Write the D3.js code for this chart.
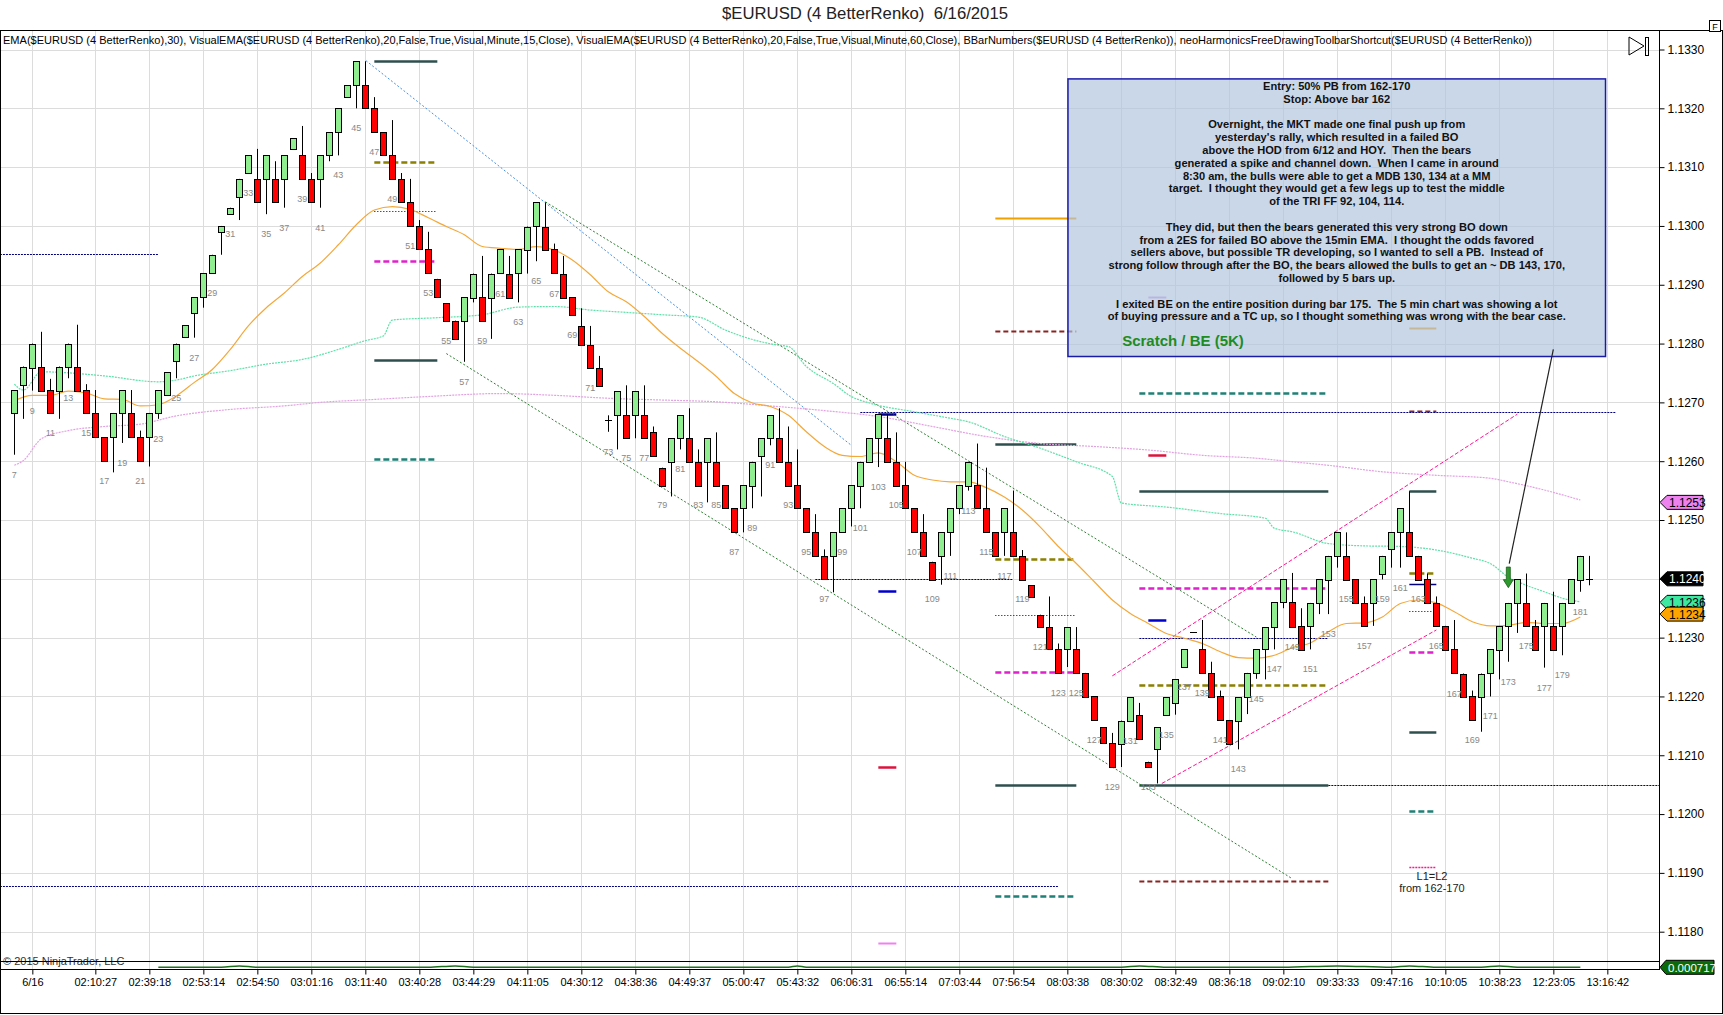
<!DOCTYPE html>
<html>
<head>
<meta charset="utf-8">
<script src="https://cdnjs.cloudflare.com/ajax/libs/d3/7.8.5/d3.min.js"></script>
<style>
    body { margin: 0; background: #fff; }
    svg { display: block; font-family: Arial, "Liberation Sans", sans-serif; }
</style>
</head>
<body>
<svg id="chart" width="1723" height="1015"></svg>
<script>
// ---------- Data ----------
const firstBar = 7;

const barOpen = [
    1.12682, 1.12731, 1.12760, 1.12761, 1.12721, 1.12721, 1.12761, 1.12761, 1.12721, 1.12682,
    1.12641, 1.12641, 1.12682, 1.12682, 1.12641, 1.12641, 1.12682, 1.12712, 1.12771, 1.12810,
    1.12851, 1.12879, 1.12920, 1.12990, 1.13021, 1.13050, 1.13090, 1.13080, 1.13080, 1.13080,
    1.13080, 1.13131, 1.13120, 1.13080, 1.13080, 1.13120, 1.13159, 1.13219, 1.13239, 1.13239,
    1.13200, 1.13159, 1.13120, 1.13080, 1.13041, 1.13000, 1.12961, 1.12910, 1.12869, 1.12839,
    1.12839, 1.12879, 1.12879, 1.12879, 1.12919, 1.12919, 1.12919, 1.12960, 1.12999, 1.12999,
    1.12960, 1.12919, 1.12879, 1.12830, 1.12798, 1.12759, 1.12670, 1.12678, 1.12678, 1.12678,
    1.12678, 1.12649, 1.12589, 1.12599, 1.12639, 1.12639, 1.12599, 1.12599, 1.12599, 1.12559,
    1.12520, 1.12520, 1.12559, 1.12609, 1.12639, 1.12639, 1.12599, 1.12559, 1.12520, 1.12479,
    1.12439, 1.12439, 1.12479, 1.12520, 1.12559, 1.12599, 1.12639, 1.12639, 1.12599, 1.12559,
    1.12520, 1.12479, 1.12429, 1.12439, 1.12479, 1.12520, 1.12559, 1.12559, 1.12520, 1.12479,
    1.12479, 1.12479, 1.12439, 1.12389, 1.12339, 1.12318, 1.12280, 1.12280, 1.12280, 1.12240,
    1.12200, 1.12148, 1.12120, 1.12120, 1.12159, 1.12169, 1.12089, 1.12110, 1.12169, 1.12189,
    1.12250, 1.12309, 1.12280, 1.12240, 1.12200, 1.12160, 1.12159, 1.12199, 1.12240, 1.12280,
    1.12318, 1.12360, 1.12360, 1.12320, 1.12320, 1.12359, 1.12399, 1.12439, 1.12439, 1.12399,
    1.12359, 1.12359, 1.12409, 1.12450, 1.12479, 1.12479, 1.12439, 1.12399, 1.12359, 1.12320,
    1.12280, 1.12239, 1.12200, 1.12200, 1.12239, 1.12280, 1.12320, 1.12359, 1.12359, 1.12320,
    1.12320, 1.12320, 1.12320, 1.12359, 1.12399, 1.12399
];
const barClose = [
    1.12721, 1.12761, 1.12800, 1.12721, 1.12682, 1.12761, 1.12800, 1.12721, 1.12682, 1.12641,
    1.12601, 1.12682, 1.12721, 1.12641, 1.12601, 1.12682, 1.12721, 1.12751, 1.12800, 1.12831,
    1.12879, 1.12920, 1.12951, 1.13000, 1.13031, 1.13080, 1.13120, 1.13041, 1.13120, 1.13041,
    1.13120, 1.13149, 1.13080, 1.13041, 1.13120, 1.13159, 1.13200, 1.13239, 1.13280, 1.13200,
    1.13159, 1.13120, 1.13080, 1.13041, 1.13000, 1.12961, 1.12920, 1.12879, 1.12839, 1.12808,
    1.12879, 1.12919, 1.12839, 1.12919, 1.12960, 1.12879, 1.12960, 1.12999, 1.13040, 1.12960,
    1.12919, 1.12879, 1.12849, 1.12798, 1.12759, 1.12729, 1.12670, 1.12719, 1.12639, 1.12719,
    1.12639, 1.12609, 1.12559, 1.12639, 1.12678, 1.12599, 1.12559, 1.12639, 1.12559, 1.12520,
    1.12479, 1.12559, 1.12599, 1.12639, 1.12678, 1.12599, 1.12559, 1.12520, 1.12479, 1.12439,
    1.12400, 1.12479, 1.12520, 1.12559, 1.12599, 1.12639, 1.12680, 1.12599, 1.12559, 1.12520,
    1.12479, 1.12439, 1.12399, 1.12479, 1.12520, 1.12559, 1.12599, 1.12520, 1.12479, 1.12439,
    1.12520, 1.12439, 1.12399, 1.12369, 1.12318, 1.12280, 1.12240, 1.12318, 1.12240, 1.12200,
    1.12160, 1.12120, 1.12080, 1.12159, 1.12199, 1.12128, 1.12080, 1.12148, 1.12199, 1.12229,
    1.12280, 1.12309, 1.12240, 1.12200, 1.12160, 1.12120, 1.12199, 1.12240, 1.12280, 1.12318,
    1.12360, 1.12399, 1.12318, 1.12280, 1.12359, 1.12399, 1.12439, 1.12479, 1.12399, 1.12359,
    1.12320, 1.12399, 1.12439, 1.12479, 1.12520, 1.12439, 1.12399, 1.12359, 1.12320, 1.12280,
    1.12239, 1.12200, 1.12160, 1.12239, 1.12280, 1.12320, 1.12359, 1.12399, 1.12320, 1.12280,
    1.12359, 1.12280, 1.12359, 1.12399, 1.12439, 1.12399
];
const barHigh = [
    1.12721, 1.12761, 1.12800, 1.12820, 1.12740, 1.12761, 1.12800, 1.12832, 1.12731, 1.12721,
    1.12641, 1.12682, 1.12721, 1.12721, 1.12652, 1.12682, 1.12721, 1.12751, 1.12800, 1.12831,
    1.12879, 1.12920, 1.12951, 1.13000, 1.13031, 1.13080, 1.13120, 1.13131, 1.13120, 1.13110,
    1.13120, 1.13149, 1.13170, 1.13090, 1.13120, 1.13159, 1.13200, 1.13239, 1.13280, 1.13280,
    1.13219, 1.13159, 1.13180, 1.13090, 1.13080, 1.13010, 1.12990, 1.12910, 1.12869, 1.12839,
    1.12879, 1.12919, 1.12949, 1.12919, 1.12960, 1.12949, 1.12960, 1.12999, 1.13040, 1.13040,
    1.12970, 1.12949, 1.12879, 1.12860, 1.12830, 1.12779, 1.12678, 1.12719, 1.12729, 1.12719,
    1.12729, 1.12659, 1.12589, 1.12639, 1.12678, 1.12690, 1.12620, 1.12639, 1.12649, 1.12559,
    1.12520, 1.12559, 1.12599, 1.12639, 1.12678, 1.12690, 1.12659, 1.12620, 1.12520, 1.12510,
    1.12450, 1.12479, 1.12520, 1.12559, 1.12599, 1.12639, 1.12680, 1.12680, 1.12649, 1.12599,
    1.12520, 1.12510, 1.12429, 1.12479, 1.12520, 1.12559, 1.12599, 1.12630, 1.12589, 1.12479,
    1.12520, 1.12550, 1.12449, 1.12389, 1.12339, 1.12370, 1.12290, 1.12318, 1.12318, 1.12240,
    1.12200, 1.12148, 1.12138, 1.12159, 1.12199, 1.12189, 1.12089, 1.12148, 1.12199, 1.12229,
    1.12280, 1.12309, 1.12330, 1.12259, 1.12210, 1.12160, 1.12199, 1.12240, 1.12280, 1.12318,
    1.12360, 1.12399, 1.12410, 1.12350, 1.12359, 1.12399, 1.12439, 1.12479, 1.12479, 1.12399,
    1.12370, 1.12399, 1.12439, 1.12479, 1.12520, 1.12549, 1.12439, 1.12409, 1.12370, 1.12320,
    1.12330, 1.12239, 1.12210, 1.12239, 1.12280, 1.12320, 1.12359, 1.12399, 1.12409, 1.12330,
    1.12359, 1.12378, 1.12359, 1.12399, 1.12439, 1.12439
];
const barLow = [
    1.12611, 1.12672, 1.12720, 1.12721, 1.12682, 1.12672, 1.12741, 1.12721, 1.12682, 1.12641,
    1.12601, 1.12581, 1.12631, 1.12641, 1.12601, 1.12591, 1.12672, 1.12712, 1.12741, 1.12810,
    1.12810, 1.12861, 1.12920, 1.12951, 1.13021, 1.13010, 1.13090, 1.13041, 1.13020, 1.13041,
    1.13031, 1.13131, 1.13080, 1.13041, 1.13031, 1.13110, 1.13120, 1.13219, 1.13200, 1.13200,
    1.13159, 1.13120, 1.13080, 1.13041, 1.13000, 1.12961, 1.12920, 1.12879, 1.12839, 1.12808,
    1.12769, 1.12870, 1.12839, 1.12808, 1.12919, 1.12879, 1.12870, 1.12919, 1.12940, 1.12960,
    1.12919, 1.12879, 1.12849, 1.12798, 1.12759, 1.12729, 1.12650, 1.12620, 1.12639, 1.12639,
    1.12639, 1.12609, 1.12559, 1.12540, 1.12620, 1.12599, 1.12559, 1.12530, 1.12559, 1.12520,
    1.12479, 1.12479, 1.12520, 1.12540, 1.12627, 1.12599, 1.12559, 1.12520, 1.12479, 1.12439,
    1.12400, 1.12377, 1.12479, 1.12489, 1.12520, 1.12599, 1.12590, 1.12599, 1.12559, 1.12520,
    1.12479, 1.12439, 1.12399, 1.12390, 1.12439, 1.12510, 1.12550, 1.12520, 1.12479, 1.12439,
    1.12439, 1.12439, 1.12399, 1.12369, 1.12318, 1.12280, 1.12240, 1.12250, 1.12240, 1.12200,
    1.12160, 1.12120, 1.12080, 1.12080, 1.12159, 1.12128, 1.12080, 1.12052, 1.12169, 1.12169,
    1.12250, 1.12309, 1.12240, 1.12200, 1.12160, 1.12120, 1.12110, 1.12170, 1.12230, 1.12229,
    1.12280, 1.12350, 1.12318, 1.12280, 1.12280, 1.12340, 1.12340, 1.12419, 1.12399, 1.12359,
    1.12320, 1.12320, 1.12399, 1.12419, 1.12419, 1.12439, 1.12399, 1.12359, 1.12320, 1.12280,
    1.12239, 1.12200, 1.12160, 1.12140, 1.12200, 1.12229, 1.12259, 1.12308, 1.12320, 1.12280,
    1.12249, 1.12280, 1.12270, 1.12359, 1.12378, 1.12389
];

// EMA(30) - orange
const emaBars = [7, 9, 11, 13, 15, 17, 19, 21, 23, 25, 27, 29, 31, 33, 35, 37, 39, 41, 43, 45, 47, 49, 51, 53,
    55, 57, 59, 61, 63, 65, 67, 69, 71, 73, 75, 77, 79, 81, 83, 85, 87, 89, 91, 93, 95, 97, 99, 101,
    103, 105, 107, 109, 111, 113, 115, 117, 119, 121, 123, 125, 127, 129, 131, 133, 135, 137, 139, 141, 143, 145, 147, 149,
    151, 153, 155, 157, 159, 161, 163, 165, 167, 169, 171, 173, 175, 177, 179, 181];
const emaValues = [1.12703, 1.12712, 1.12712, 1.12719, 1.12716, 1.12706, 1.12705, 1.12694, 1.12696, 1.12711, 1.12734, 1.12756,
    1.12790, 1.12830, 1.12861, 1.12886, 1.12914, 1.12937, 1.12968, 1.13002, 1.13027, 1.13033, 1.13028, 1.13014,
    1.12999, 1.12985, 1.12965, 1.12962, 1.12960, 1.12965, 1.12959, 1.12942, 1.12917, 1.12888, 1.12871, 1.12846,
    1.12817, 1.12792, 1.12769, 1.12744, 1.12715, 1.12699, 1.12693, 1.12678, 1.12650, 1.12625, 1.12610, 1.12608,
    1.12614, 1.12599, 1.12576, 1.12568, 1.12565, 1.12565, 1.12555, 1.12539, 1.12517, 1.12488, 1.12455, 1.12426,
    1.12395, 1.12364, 1.12341, 1.12324, 1.12307, 1.12299, 1.12290, 1.12276, 1.12266, 1.12265, 1.12270, 1.12283,
    1.12291, 1.12310, 1.12324, 1.12325, 1.12335, 1.12358, 1.12364, 1.12359, 1.12344, 1.12327, 1.12320, 1.12321,
    1.12326, 1.12324, 1.12324, 1.12335];

// VisualEMA 15 min - aquamarine
const ema15Bars = [7, 8, 10, 17, 23, 25, 27, 31, 35, 39, 43, 46, 48, 49, 54, 59, 63, 67, 71, 75, 79, 83, 86, 90, 92, 93,
    95, 98, 100, 102, 107, 111, 113, 117, 121, 125, 129, 130, 135, 141, 146, 147, 149, 153, 157, 161, 165, 169,
    171, 173, 175, 177, 179, 181];
const ema15Values = [1.12731, 1.12721, 1.12752, 1.12745, 1.12735, 1.12738, 1.12745, 1.12754, 1.12765, 1.12773, 1.12790,
    1.12805, 1.12813, 1.12840, 1.12844, 1.12849, 1.12862, 1.12863, 1.12857, 1.12853, 1.12849, 1.12845, 1.12823,
    1.12803, 1.12797, 1.12795, 1.12761, 1.12732, 1.12710, 1.12699, 1.12684, 1.12673, 1.12667, 1.12642, 1.12622,
    1.12599, 1.12574, 1.12529, 1.12522, 1.12511, 1.12503, 1.12486, 1.12480, 1.12460, 1.12456, 1.12455, 1.12449,
    1.12435, 1.12426, 1.12403, 1.12389, 1.12378, 1.12367, 1.12361];

// VisualEMA 60 min - plum
const ema60Bars = [7, 8, 10, 13, 17, 21, 25, 31, 37, 41, 47, 53, 61, 67, 73, 79, 85, 91, 97, 103, 109, 115, 121, 127,
    133, 139, 145, 149, 153, 159, 165, 171, 173, 177, 181];
const ema60Values = [1.12593, 1.12601, 1.12638, 1.12652, 1.12659, 1.12663, 1.12677, 1.12688, 1.12694, 1.12700, 1.12705,
    1.12710, 1.12715, 1.12712, 1.12707, 1.12704, 1.12701, 1.12694, 1.12686, 1.12676, 1.12659, 1.12642, 1.12630,
    1.12625, 1.12619, 1.12610, 1.12605, 1.12599, 1.12593, 1.12582, 1.12576, 1.12571, 1.12565, 1.12551, 1.12534];

// bottom indicator panel
const panelBars = [23, 30, 32, 34, 53, 56, 58, 93, 94, 95, 130, 132, 135, 148, 154, 160, 162, 165, 170, 172, 174, 181];
const panelValues = [0.000717, 0.000717, 0.000731, 0.000717, 0.000717, 0.000731, 0.000717, 0.000717, 0.000731, 0.000717,
    0.000717, 0.000731, 0.000717, 0.000717, 0.000731, 0.000717, 0.000731, 0.000717, 0.000717, 0.000731, 0.000717, 0.000717];

// axes
const priceTicks = [1.1180, 1.1190, 1.1200, 1.1210, 1.1220, 1.1230, 1.1240, 1.1250,
    1.1260, 1.1270, 1.1280, 1.1290, 1.1300, 1.1310, 1.1320, 1.1330];
const timeTickBars = [9, 16, 22, 28, 34, 40, 46, 52, 58, 64, 70, 76, 82, 88, 94, 100, 106, 112, 118, 124,
    130, 136, 142, 148, 154, 160, 166, 172, 178, 184];
const timeTickLabels = ['6/16', '02:10:27', '02:39:18', '02:53:14', '02:54:50', '03:01:16', '03:11:40', '03:40:28',
    '03:44:29', '04:11:05', '04:30:12', '04:38:36', '04:49:37', '05:00:47', '05:43:32', '06:06:31', '06:55:14',
    '07:03:44', '07:56:54', '08:03:38', '08:30:02', '08:32:49', '08:36:18', '09:02:10', '09:33:33', '09:47:16',
    '10:10:05', '10:38:23', '12:23:05', '13:16:42'];

// price markers on the right axis
const markerValues = [1.1253, 1.1240, 1.1236, 1.1234];
const markerKinds = ['ema60', 'last', 'ema15', 'ema'];

// horizontal drawing levels (price, from bar, to bar, kind)
const levelPrice = [
    1.13281, 1.13108, 1.13026, 1.12940, 1.12772, 1.12604,
    1.13014, 1.12821, 1.12630, 1.12433, 1.12339, 1.12242, 1.12049, 1.11860,
    1.12716, 1.12550, 1.12385, 1.12299, 1.12219, 1.12049, 1.11886,
    1.12827, 1.12685, 1.12549, 1.12410, 1.12392, 1.12345, 1.12276, 1.12140, 1.12005, 1.11910,
    1.12681, 1.12380, 1.12080, 1.11781,
    1.12880, 1.12611, 1.12330,
    1.12953, 1.11878, 1.12684, 1.12399, 1.12049
];
const levelFrom = [
    47, 47, 47, 47, 47, 47,
    116, 116, 116, 116, 116, 116, 116, 116,
    132, 132, 132, 132, 132, 132, 132,
    162, 162, 162, 162, 162, 162, 162, 162, 162, 162,
    103, 103, 103, 103,
    133, 133, 133,
    5.4, 5.4, 101, 96, 153
];
const levelTo = [
    54, 54, 54, 54, 54, 54,
    125, 125, 125, 125, 125, 125, 125, 125,
    153, 153, 153, 153, 153, 153, 153,
    165, 165, 165, 165, 165, 165, 165, 165, 165, 165,
    105, 105, 105, 105,
    135, 135, 135,
    23, 123, 185, 118, 190
];
const levelKind = [
    'black', 'olive', 'dotted', 'magenta', 'black', 'teal',
    'orange', 'brown', 'black', 'olive', 'dotted', 'magenta', 'black', 'teal',
    'teal', 'black', 'magenta', 'navyDot', 'olive', 'black', 'brown',
    'orange', 'brown', 'black', 'olive', 'navy', 'dotted', 'magenta', 'black', 'teal', 'pinkDot',
    'navySolid', 'blue', 'red', 'violet',
    'plum', 'red', 'blue',
    'navyDot', 'navyDot', 'navyDot', 'navyDot', 'navyDot'
];

// trend lines (bar, price) -> (bar, price)
const trendFromBar = [46.07, 66, 55, 129, 134.5];
const trendFromPrice = [1.13281, 1.13041, 1.12783, 1.12235, 1.12052];
const trendToBar = [100, 145, 149, 174, 165];
const trendToPrice = [1.12627, 1.12301, 1.11890, 1.12680, 1.12313];
const trendKind = ['blue', 'green', 'green', 'pink', 'pink'];

// callout arrow from note box to bar 173
const arrowFrom = [178, 1.12790];
const arrowTo = [173.1, 1.12426];
const arrowHead = [173, 1.12420, 1.12385];

// note box
const noteBox = [1.1325, 1.12778];   // top / bottom price
const noteBoxBars = [124.07, 183.8];
const noteLines = [
    'Entry: 50% PB from 162-170',
    'Stop: Above bar 162',
    '',
    'Overnight, the MKT made one final push up from',
    "yesterday's rally, which resulted in a failed BO",
    'above the HOD from 6/12 and HOY.  Then the bears',
    'generated a spike and channel down.  When I came in around',
    '8:30 am, the bulls were able to get a MDB 130, 134 at a MM',
    'target.  I thought they would get a few legs up to test the middle',
    'of the TRI FF 92, 104, 114.',
    '',
    'They did, but then the bears generated this very strong BO down',
    'from a 2ES for failed BO above the 15min EMA.  I thought the odds favored',
    'sellers above, but possible TR developing, so I wanted to sell a PB.  Instead of',
    'strong follow through after the BO, the bears allowed the bulls to get an ~ DB 143, 170,',
    'followed by 5 bars up.',
    '',
    'I exited BE on the entire position during bar 175.  The 5 min chart was showing a lot',
    'of buying pressure and a TC up, so I thought something was wrong with the bear case.'
];
const resultText = 'Scratch / BE (5K)';

// ---------- Chart ----------
const svg = d3.select('#chart');
const W = 1723, H = 1015;
const plotRight = 1660, plotTop = 30, plotBottom = 961, panelBottom = 969;

const x = d3.scaleLinear().domain([7, 184]).range([14.33, 1607.33]);
const y = d3.scaleLinear().domain([1.1330, 1.1180]).range([49.5, 931.7]);
const yPanel = d3.scaleLinear().domain([0.0007, 0.00078]).range([panelBottom, plotBottom]);

svg.append('rect').attr('width', W).attr('height', H).attr('fill', '#fff');

svg.append('defs').append('clipPath').attr('id', 'plotClip')
    .append('rect').attr('x', 1).attr('y', plotTop + 1).attr('width', plotRight - 1).attr('height', plotBottom - plotTop - 1);

// Title
svg.append('text')
    .attr('x', 865).attr('y', 19)
    .attr('text-anchor', 'middle')
    .attr('font-size', 16).attr('fill', '#222')
    .attr('textLength', 286).attr('lengthAdjust', 'spacingAndGlyphs')
    .style('white-space', 'pre')
    .text('$EURUSD (4 BetterRenko)  6/16/2015');

// Grid
const grid = svg.append('g');
grid.selectAll('line.h').data(priceTicks).join('line')
    .attr('x1', 0).attr('x2', plotRight)
    .attr('y1', d => Math.round(y(d)) + 0.5).attr('y2', d => Math.round(y(d)) + 0.5)
    .attr('stroke', '#dcdcdc');
grid.selectAll('line.v').data(timeTickBars).join('line')
    .attr('x1', d => Math.round(x(d)) + 0.5).attr('x2', d => Math.round(x(d)) + 0.5)
    .attr('y1', plotTop).attr('y2', panelBottom)
    .attr('stroke', '#dcdcdc');

// indicator header
svg.append('text')
    .attr('x', 3).attr('y', 44)
    .attr('font-size', 11).attr('fill', '#000')
    .attr('textLength', 1529).attr('lengthAdjust', 'spacingAndGlyphs')
    .text('EMA($EURUSD (4 BetterRenko),30), VisualEMA($EURUSD (4 BetterRenko),20,False,True,Visual,Minute,15,Close), VisualEMA($EURUSD (4 BetterRenko),20,False,True,Visual,Minute,60,Close), BBarNumbers($EURUSD (4 BetterRenko)), neoHarmonicsFreeDrawingToolbarShortcut($EURUSD (4 BetterRenko))');

const plot = svg.append('g').attr('clip-path', 'url(#plotClip)');

// Horizontal levels
const levelStyle = {
    black:     { stroke: '#2f4f4f', width: 2.5, dash: null },
    olive:     { stroke: '#8b8000', width: 2.5, dash: '6,3' },
    magenta:   { stroke: '#e020cc', width: 2.5, dash: '6,3' },
    teal:      { stroke: '#1f8078', width: 2.5, dash: '6,3' },
    brown:     { stroke: '#8b2323', width: 2, dash: '5,3' },
    orange:    { stroke: '#f0a000', width: 2, dash: null },
    dotted:    { stroke: '#000', width: 1, dash: '1,2' },
    navyDot:   { stroke: '#000080', width: 1, dash: '2,1' },
    navy:      { stroke: '#000080', width: 1.5, dash: null },
    navySolid: { stroke: '#000080', width: 2.5, dash: null },
    blue:      { stroke: '#0000cd', width: 2.5, dash: null },
    red:       { stroke: '#dc143c', width: 2.5, dash: null },
    violet:    { stroke: '#ee82ee', width: 2, dash: null },
    plum:      { stroke: '#cc99dd', width: 2, dash: null },
    pinkDot:   { stroke: '#ff1493', width: 1.5, dash: '2,1' }
};
plot.selectAll('line.level').data(levelPrice).join('line')
    .attr('x1', (d, i) => x(levelFrom[i])).attr('x2', (d, i) => x(levelTo[i]))
    .attr('y1', d => Math.round(y(d)) + 0.5).attr('y2', d => Math.round(y(d)) + 0.5)
    .attr('stroke', (d, i) => levelStyle[levelKind[i]].stroke)
    .attr('stroke-width', (d, i) => levelStyle[levelKind[i]].width)
    .attr('stroke-dasharray', (d, i) => levelStyle[levelKind[i]].dash);

// Trend lines
const trendStyle = {
    blue:  { stroke: '#4a90e2', dash: '2,2' },
    green: { stroke: '#2e7d32', dash: '2,2' },
    pink:  { stroke: '#ff1493', dash: '4,2' }
};
plot.selectAll('line.trend').data(trendFromBar).join('line')
    .attr('x1', d => x(d)).attr('y1', (d, i) => y(trendFromPrice[i]))
    .attr('x2', (d, i) => x(trendToBar[i])).attr('y2', (d, i) => y(trendToPrice[i]))
    .attr('stroke', (d, i) => trendStyle[trendKind[i]].stroke)
    .attr('stroke-dasharray', (d, i) => trendStyle[trendKind[i]].dash)
    .attr('stroke-width', 1);

// EMA lines
const lineGen = d3.line().x(d => x(d[0])).y(d => y(d[1])).curve(d3.curveMonotoneX);
plot.append('path')
    .datum(ema60Bars.map((b, i) => [b, ema60Values[i]]))
    .attr('d', lineGen).attr('fill', 'none')
    .attr('stroke', '#e2a2e2').attr('stroke-width', 1.2).attr('stroke-dasharray', '2,1');
plot.append('path')
    .datum(ema15Bars.map((b, i) => [b, ema15Values[i]]))
    .attr('d', lineGen).attr('fill', 'none')
    .attr('stroke', '#5fe0a8').attr('stroke-width', 1.2).attr('stroke-dasharray', '2,1');
plot.append('path')
    .datum(emaBars.map((b, i) => [b, emaValues[i]]))
    .attr('d', lineGen).attr('fill', 'none')
    .attr('stroke', '#f4a83a').attr('stroke-width', 1.2);

// Note box
plot.append('rect')
    .attr('x', x(noteBoxBars[0])).attr('y', y(noteBox[0]))
    .attr('width', x(noteBoxBars[1]) - x(noteBoxBars[0]))
    .attr('height', y(noteBox[1]) - y(noteBox[0]))
    .attr('fill', 'rgb(176,196,222)').attr('fill-opacity', 0.68)
    .attr('stroke', '#1a1aa8').attr('stroke-width', 1.5);

const boxCx = (x(noteBoxBars[0]) + x(noteBoxBars[1])) / 2;
const noteText = svg.append('text')
    .attr('text-anchor', 'middle')
    .attr('font-size', 11.1).attr('font-weight', 'bold').attr('fill', '#111')
    .style('white-space', 'pre');
noteText.selectAll('tspan').data(noteLines).join('tspan')
    .attr('x', boxCx)
    .attr('y', (d, i) => y(noteBox[0]) + 11 + i * 12.8)
    .text(d => d);

svg.append('text')
    .attr('x', 1183).attr('y', 346)
    .attr('text-anchor', 'middle')
    .attr('font-size', 15).attr('font-weight', 'bold').attr('fill', '#1e8c1e')
    .text(resultText);

// Candles
const bars = barOpen.map((o, i) => ({ n: firstBar + i, o, c: barClose[i], h: barHigh[i], l: barLow[i] }));
const candles = plot.append('g');
candles.selectAll('line.wick').data(bars).join('line')
    .attr('x1', d => Math.round(x(d.n)) + 0.5).attr('x2', d => Math.round(x(d.n)) + 0.5)
    .attr('y1', d => y(d.h)).attr('y2', d => y(d.l))
    .attr('stroke', '#000').attr('stroke-width', 1);
candles.selectAll('rect.body').data(bars.filter(d => d.o !== d.c)).join('rect')
    .attr('x', d => Math.round(x(d.n)) - 2.5)
    .attr('y', d => Math.round(y(Math.max(d.o, d.c))) + 0.5)
    .attr('width', 6)
    .attr('height', d => Math.max(1, Math.round(Math.abs(y(d.o) - y(d.c)))))
    .attr('fill', d => d.c > d.o ? '#90ee90' : '#ff0000')
    .attr('stroke', '#000').attr('stroke-width', 1);
candles.selectAll('line.doji').data(bars.filter(d => d.o === d.c)).join('line')
    .attr('x1', d => Math.round(x(d.n)) - 3).attr('x2', d => Math.round(x(d.n)) + 4)
    .attr('y1', d => Math.round(y(d.o)) + 0.5).attr('y2', d => Math.round(y(d.o)) + 0.5)
    .attr('stroke', '#000');

// Bar numbers
plot.selectAll('text.barnum').data(bars.filter(d => d.n % 2 === 1)).join('text')
    .attr('x', d => x(d.n)).attr('y', d => y(d.l) + 23)
    .attr('text-anchor', 'middle')
    .attr('font-size', 9).attr('fill', '#888')
    .text(d => d.n);

// Callout arrow
plot.append('line')
    .attr('x1', x(arrowFrom[0])).attr('y1', y(arrowFrom[1]))
    .attr('x2', x(arrowTo[0])).attr('y2', y(arrowTo[1]))
    .attr('stroke', '#222').attr('stroke-width', 1.2);
const ax = x(arrowHead[0]), ayTop = y(arrowHead[1]), ayTip = y(arrowHead[2]);
const ayNeck = ayTip - 8;
plot.append('path')
    .attr('d', `M${ax - 2},${ayTop} L${ax + 2},${ayTop} L${ax + 2},${ayNeck} L${ax + 5},${ayNeck} L${ax},${ayTip} L${ax - 5},${ayNeck} L${ax - 2},${ayNeck} Z`)
    .attr('fill', '#2e9a2e').attr('stroke', '#1b5e1b').attr('stroke-width', 0.8);

// L1=L2 note
svg.append('text').attr('x', 1432).attr('y', 880).attr('text-anchor', 'middle')
    .attr('font-size', 11).attr('fill', '#222').text('L1=L2');
svg.append('text').attr('x', 1432).attr('y', 892).attr('text-anchor', 'middle')
    .attr('font-size', 11).attr('fill', '#222').text('from 162-170');

// copyright
svg.append('text').attr('x', 3).attr('y', 965)
    .attr('font-size', 11).attr('fill', '#333').text('\u00a9 2015 NinjaTrader, LLC');

// Bottom indicator panel
svg.append('path')
    .datum(panelBars.map((b, i) => [b, panelValues[i]]))
    .attr('d', d3.line().x(d => x(d[0])).y(d => yPanel(d[1])).curve(d3.curveMonotoneX))
    .attr('fill', 'none').attr('stroke', '#1e6e1e').attr('stroke-width', 1.5);

// Frame lines
const frame = svg.append('g').attr('stroke', '#000').attr('stroke-width', 1);
frame.append('line').attr('x1', 0).attr('x2', W).attr('y1', plotTop + 0.5).attr('y2', plotTop + 0.5);
frame.append('line').attr('x1', 0.5).attr('x2', 0.5).attr('y1', plotTop).attr('y2', H - 1);
frame.append('line').attr('x1', W - 0.5).attr('x2', W - 0.5).attr('y1', plotTop).attr('y2', H - 1);
frame.append('line').attr('x1', 0).attr('x2', W).attr('y1', H - 1.5).attr('y2', H - 1.5);
frame.append('line').attr('x1', plotRight - 0.5).attr('x2', plotRight - 0.5).attr('y1', plotTop).attr('y2', panelBottom);
frame.append('line').attr('x1', 0).attr('x2', plotRight).attr('y1', plotBottom + 0.5).attr('y2', plotBottom + 0.5);
frame.append('line').attr('x1', 0).attr('x2', plotRight).attr('y1', panelBottom + 0.5).attr('y2', panelBottom + 0.5);

// Y axis (right)
const yAxis = svg.append('g')
    .attr('transform', `translate(${plotRight - 0.5},0)`)
    .call(d3.axisRight(y).tickValues(priceTicks).tickFormat(d3.format('.4f')).tickSize(5).tickPadding(3));
yAxis.select('.domain').remove();
yAxis.selectAll('text').attr('font-size', 12).attr('font-family', 'Arial, "Liberation Sans", sans-serif').attr('fill', '#000');

// X axis
const xAxis = svg.append('g')
    .attr('transform', `translate(0,${panelBottom + 0.5})`)
    .call(d3.axisBottom(x).tickValues(timeTickBars).tickFormat((d, i) => timeTickLabels[i]).tickSize(5).tickPadding(4));
xAxis.select('.domain').remove();
xAxis.selectAll('text').attr('font-size', 11).attr('font-family', 'Arial, "Liberation Sans", sans-serif').attr('fill', '#000');

// Right-axis markers
const markerStyle = {
    ema60: { fill: '#ee82ee', text: '#000' },
    last:  { fill: '#000', text: '#fff' },
    ema15: { fill: '#3de8a0', text: '#000' },
    ema:   { fill: '#ffa500', text: '#000' }
};
const markers = svg.append('g');
markerValues.forEach((v, i) => {
    const my = y(v), st = markerStyle[markerKinds[i]];
    markers.append('path')
        .attr('d', `M${plotRight},${my} L${plotRight + 7},${my - 7} L${plotRight + 43},${my - 7} L${plotRight + 43},${my + 7} L${plotRight + 7},${my + 7} Z`)
        .attr('fill', st.fill).attr('stroke', '#000').attr('stroke-width', 1);
    markers.append('text')
        .attr('x', plotRight + 9).attr('y', my + 4.5)
        .attr('font-size', 12).attr('fill', st.text)
        .text(d3.format('.4f')(v));
});
// panel marker
const pm = yPanel(panelValues[panelValues.length - 1]);
markers.append('path')
    .attr('d', `M${plotRight},${pm} L${plotRight + 6},${pm - 7} L${plotRight + 54},${pm - 7} L${plotRight + 54},${pm + 7} L${plotRight + 6},${pm + 7} Z`)
    .attr('fill', '#0b6b0b').attr('stroke', '#000');
markers.append('text')
    .attr('x', plotRight + 8).attr('y', pm + 4.5)
    .attr('font-size', 11.5).attr('fill', '#fff')
    .text(d3.format('.6f')(panelValues[panelValues.length - 1]));

// Top-right icons
svg.append('path')
    .attr('d', 'M1629,37 L1644,46 L1629,55 Z')
    .attr('fill', 'none').attr('stroke', '#000').attr('stroke-width', 1);
svg.append('rect').attr('x', 1645.5).attr('y', 37.5).attr('width', 3).attr('height', 18)
    .attr('fill', 'none').attr('stroke', '#000');
svg.append('rect').attr('x', 1709.5).attr('y', 20.5).attr('width', 11).attr('height', 11)
    .attr('fill', '#fff').attr('stroke', '#000');
svg.append('text').attr('x', 1715).attr('y', 29.5).attr('text-anchor', 'middle')
    .attr('font-size', 9).attr('fill', '#000').text('F');
</script>
</body>
</html>
